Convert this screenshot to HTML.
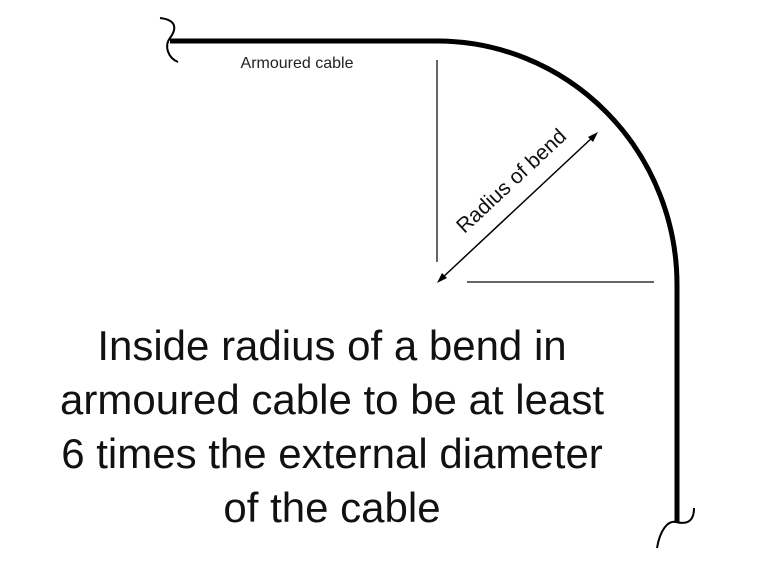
<!DOCTYPE html>
<html><head><style>
html,body{margin:0;padding:0;background:#fff;}
body{width:757px;height:568px;position:relative;overflow:hidden;font-family:"Liberation Sans",sans-serif;}
.t{position:absolute;left:0;width:664px;text-align:center;font-size:42px;color:#111;line-height:54px;top:319px;}
</style></head><body>
<svg width="757" height="568" style="position:absolute;left:0;top:0">
<path d="M170 41 L437 41 A240 244 0 0 1 677 285 L677 522" fill="none" stroke="#000" stroke-width="5"/>
<path d="M160 18 C178 20 176 30 170 38 C164 46 168 58 178 62" fill="none" stroke="#000" stroke-width="2"/>
<path d="M657 548 C660 530 668 520 676 522 C684 524 694 524 694 508" fill="none" stroke="#000" stroke-width="2"/>
<line x1="437" y1="60" x2="437" y2="262" stroke="#333" stroke-width="1.5"/>
<line x1="467" y1="282" x2="654" y2="282" stroke="#333" stroke-width="1.5"/>
<line x1="441" y1="279" x2="594" y2="136" stroke="#000" stroke-width="1.5"/>
<polygon points="437,283 442,273 447,278" fill="#000"/>
<polygon points="598,132 588,137 593,142" fill="#000"/>
<text x="297" y="68" font-family="Liberation Sans" font-size="16" fill="#222" text-anchor="middle">Armoured cable</text>
<text transform="translate(516,186) rotate(-43)" font-family="Liberation Sans" font-size="21" fill="#111" text-anchor="middle">Radius of bend</text>
</svg>
<div class="t">Inside radius of a bend in<br>armoured cable to be at least<br>6 times the external diameter<br>of the cable</div>
</body></html>
